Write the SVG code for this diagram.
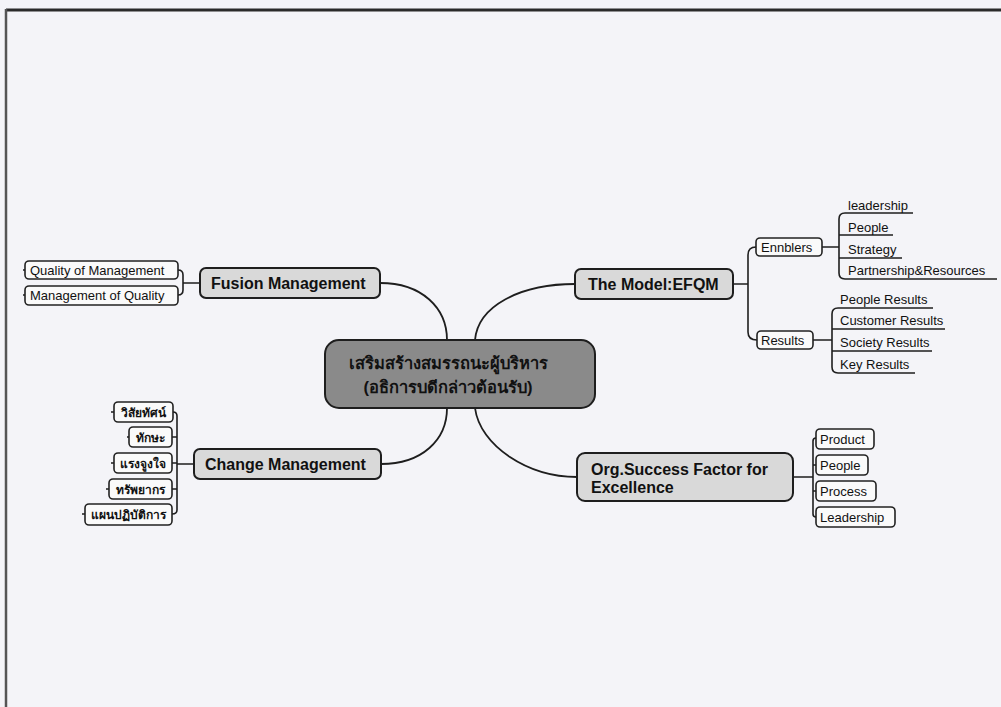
<svg xmlns="http://www.w3.org/2000/svg" width="1001" height="707" viewBox="0 0 1001 707">
<style>
.bg{fill:#f4f4f8}
.main{fill:#d9d9d9;stroke:#1e1e1e;stroke-width:2}
.center{fill:#8a8a8a;stroke:#1e1e1e;stroke-width:2}
.small{fill:#fafafa;stroke:#222;stroke-width:1.6}
.ln{fill:none;stroke:#1e1e1e;stroke-width:1.6}
.cv{fill:none;stroke:#1e1e1e;stroke-width:1.8}
.t{font-family:"Liberation Sans",Arial,sans-serif;fill:#111}
.tb{font-family:"Liberation Sans",Arial,sans-serif;font-weight:bold;fill:#111;font-size:16px}
.ts{font-family:"Liberation Sans",Arial,sans-serif;fill:#111;font-size:13px}
.th{font-family:"Liberation Sans","Noto Sans",sans-serif;font-weight:bold;fill:#111;font-size:12px}
</style>
<rect class="bg" x="0" y="0" width="1001" height="707"/>
<!-- frame -->
<line x1="6" y1="10" x2="1001" y2="10" stroke="#2a2a2a" stroke-width="3"/>
<line x1="6" y1="9" x2="6" y2="707" stroke="#555" stroke-width="2.5"/>

<g id="connectors">
  <path class="cv" d="M380,283 C422,283 447,308 447,340"/>
  <path class="cv" d="M475,340 C478,306 520,284 575,284"/>
  <path class="cv" d="M447,408 C447,440 422,464 381,464"/>
  <path class="cv" d="M475,408 C480,446 528,477 577,477"/>
  <!-- fusion bracket -->
  <path class="ln" d="M178,270 Q183,270 183,275 V290 Q183,295 178,295 M183,283 H200"/>
  <path class="ln" d="M23,270 H25 M23,295 H25"/>
  <!-- change bracket -->
  <path class="ln" d="M173,412 Q177,412 177,416 V510 Q177,514 172,514 M172,437 H177 M172,463 H177 M172,489 H177 M177,464 H194"/>
  <path class="ln" d="M111,412 H114 M127,437 H129 M111,463 H114 M106,489 H109 M82,514 H85"/>
  <!-- efqm bracket -->
  <path class="ln" d="M733,284 H748 M756,247 Q748,247 748,255 V332 Q748,340 757,340"/>
  <!-- ennblers list -->
  <path class="ln" d="M822,247 H839 M913,213 H845 Q839,213 839,219 V273 Q839,279 845,279 H997 M839,235 H893 M839,258 H902"/>
  <!-- results list -->
  <path class="ln" d="M813,340 H832 M933,308 H838 Q832,308 832,314 V367 Q832,373 838,373 H915 M832,329 H945 M832,351 H932"/>
  <!-- org bracket -->
  <path class="ln" d="M793,477 H813 M816,438 Q813,438 813,441 V514 Q813,517 816,517 M813,465 H816 M813,491 H816"/>
</g>

<g id="center">
  <rect class="center" x="325" y="340" width="270" height="68" rx="14"/>
  <text class="t" x="448" y="369" text-anchor="middle" font-size="16.5" font-weight="bold">เสริมสร้างสมรรถนะผู้บริหาร</text>
  <text class="t" x="448" y="393" text-anchor="middle" font-size="16.5" font-weight="bold">(อธิการบดีกล่าวต้อนรับ)</text>
</g>

<g id="fusion">
  <rect class="main" x="200" y="268" width="180" height="30" rx="6"/>
  <text class="tb" x="211" y="289">Fusion Management</text>
</g>
<g id="quality-of-management">
  <rect class="small" x="25" y="261" width="153" height="18" rx="4"/>
  <text class="ts" x="30" y="275">Quality of Management</text>
</g>
<g id="management-of-quality">
  <rect class="small" x="25" y="286" width="153" height="19" rx="4"/>
  <text class="ts" x="30" y="300">Management of Quality</text>
</g>

<g id="change">
  <rect class="main" x="194" y="449" width="187" height="30" rx="6"/>
  <text class="tb" x="205" y="470">Change Management</text>
</g>
<g id="vision">
  <rect class="small" x="114" y="402" width="59" height="20" rx="4"/>
  <text class="th" x="143.5" y="417" text-anchor="middle">วิสัยทัศน์</text>
</g>
<g id="skill">
  <rect class="small" x="129" y="427" width="43" height="20" rx="4"/>
  <text class="th" x="150.5" y="442" text-anchor="middle">ทักษะ</text>
</g>
<g id="incentive">
  <rect class="small" x="114" y="453" width="58" height="20" rx="4"/>
  <text class="th" x="143" y="468" text-anchor="middle">แรงจูงใจ</text>
</g>
<g id="resource">
  <rect class="small" x="109" y="479" width="63" height="20" rx="4"/>
  <text class="th" x="140.5" y="494" text-anchor="middle">ทรัพยากร</text>
</g>
<g id="action-plan">
  <rect class="small" x="85" y="504" width="87" height="21" rx="4"/>
  <text class="th" x="128.5" y="519" text-anchor="middle">แผนปฏิบัติการ</text>
</g>

<g id="efqm">
  <rect class="main" x="575" y="269" width="158" height="30" rx="6"/>
  <text class="tb" x="588" y="290">The Model:EFQM</text>
</g>
<g id="ennblers">
  <rect class="small" x="756" y="238" width="66" height="18" rx="4"/>
  <text class="ts" x="761" y="252">Ennblers</text>
</g>
<g id="results">
  <rect class="small" x="757" y="331" width="56" height="18" rx="4"/>
  <text class="ts" x="761" y="345">Results</text>
</g>
<g id="enb-leadership"><text class="ts" x="848" y="210">leadership</text></g>
<g id="enb-people"><text class="ts" x="848" y="232">People</text></g>
<g id="enb-strategy"><text class="ts" x="848" y="254">Strategy</text></g>
<g id="enb-partnership"><text class="ts" x="848" y="275">Partnership&amp;Resources</text></g>
<g id="res-people"><text class="ts" x="840" y="304">People Results</text></g>
<g id="res-customer"><text class="ts" x="840" y="325">Customer Results</text></g>
<g id="res-society"><text class="ts" x="840" y="347">Society Results</text></g>
<g id="res-key"><text class="ts" x="840" y="369">Key Results</text></g>

<g id="org">
  <rect class="main" x="577" y="453" width="216" height="48" rx="8"/>
  <text class="tb" x="591" y="475">Org.Success Factor for</text>
  <text class="tb" x="591" y="493">Excellence</text>
</g>
<g id="org-product">
  <rect class="small" x="816" y="429" width="58" height="20" rx="4"/>
  <text class="ts" x="820" y="444">Product</text>
</g>
<g id="org-people">
  <rect class="small" x="816" y="455" width="52" height="20" rx="4"/>
  <text class="ts" x="820" y="470">People</text>
</g>
<g id="org-process">
  <rect class="small" x="816" y="481" width="60" height="20" rx="4"/>
  <text class="ts" x="820" y="496">Process</text>
</g>
<g id="org-leadership">
  <rect class="small" x="816" y="507" width="79" height="20" rx="4"/>
  <text class="ts" x="820" y="522">Leadership</text>
</g>
</svg>
